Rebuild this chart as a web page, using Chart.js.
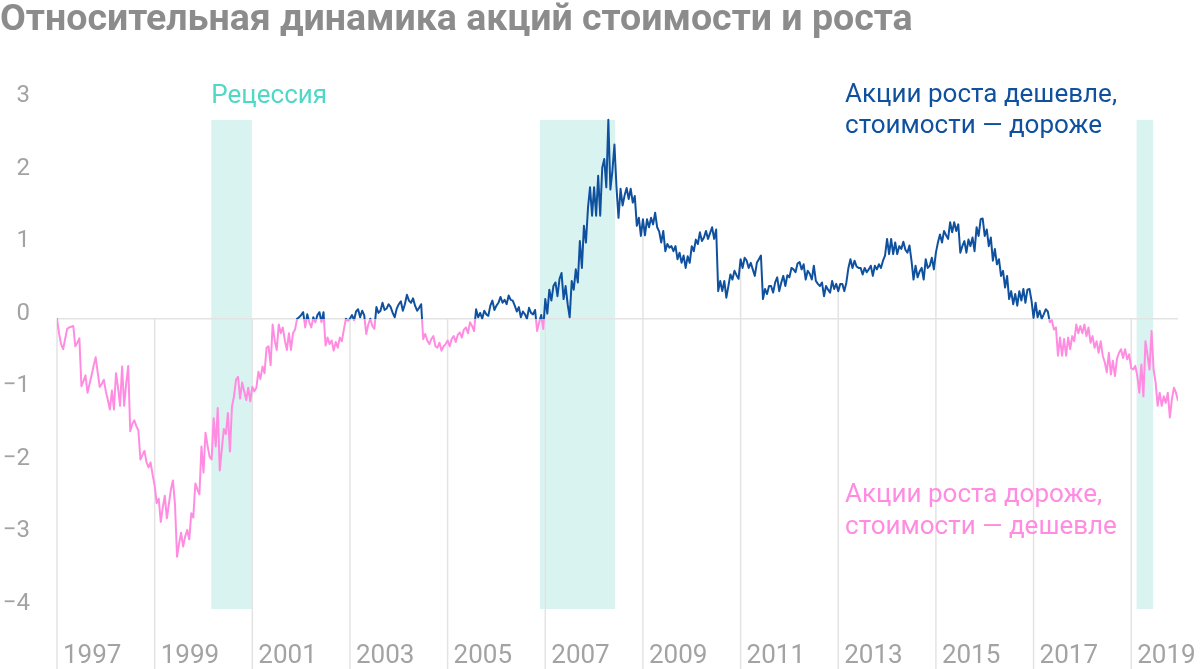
<!DOCTYPE html>
<html lang="ru">
<head>
<meta charset="utf-8">
<title>Относительная динамика акций стоимости и роста</title>
<script src="https://cdn.jsdelivr.net/npm/chart.js@4.4.1/dist/chart.umd.min.js"></script>
<style>
  html, body { margin: 0; padding: 0; background: #fff; }
  #wrap { width: 1200px; height: 669px; }
</style>
</head>
<body>
<div id="wrap"><canvas id="chart" width="1200" height="669"></canvas></div>
<script>
// Years on the axis, one series per year (24 half-month readings each)
const years = [1997, 1998, 1999, 2000, 2001, 2002, 2003, 2004, 2005, 2006, 2007, 2008,
  2009, 2010, 2011, 2012, 2013, 2014, 2015, 2016, 2017, 2018, 2019];
const yearTicks = [1997, 1999, 2001, 2003, 2005, 2007, 2009, 2011, 2013, 2015, 2017, 2019];
const yTicks = [-4, -3, -2, -1, 0, 1, 2, 3];

const v1997 = [0.0, -0.2, -0.35, -0.42, -0.28, -0.14, -0.12, -0.11, -0.1, -0.38, -0.33, -0.27, -0.93, -0.86, -0.78, -1.02, -0.9, -0.78, -0.65, -0.53, -0.74, -0.94, -0.9, -0.84];
const v1998 = [-1.0, -1.12, -1.25, -0.99, -1.25, -0.75, -0.95, -1.2, -0.66, -1.2, -0.9, -0.65, -1.55, -1.45, -1.4, -1.48, -1.54, -1.94, -1.88, -1.82, -1.98, -2.05, -1.98, -2.15];
const v1999 = [-2.3, -2.54, -2.48, -2.8, -2.6, -2.44, -2.75, -2.55, -2.35, -2.23, -2.56, -3.28, -3.1, -2.95, -3.14, -3.0, -2.91, -3.04, -2.68, -2.74, -2.27, -2.35, -2.42, -1.76];
const v2000 = [-2.12, -1.57, -1.75, -1.9, -1.94, -1.37, -1.76, -1.23, -2.09, -1.8, -1.52, -1.59, -1.3, -1.83, -1.21, -1.07, -0.84, -0.8, -1.1, -0.88, -1.0, -1.12, -0.95, -1.14];
const v2001 = [-0.94, -1.0, -0.95, -0.73, -0.83, -0.66, -0.75, -0.4, -0.38, -0.64, -0.08, -0.3, -0.43, -0.08, -0.2, -0.12, -0.3, -0.43, -0.2, -0.43, -0.2, -0.15, 0.0, 0.02];
const v2002 = [0.05, 0.09, -0.12, 0.06, -0.05, -0.12, 0.02, -0.05, 0.05, 0.09, -0.05, 0.09, -0.37, -0.26, -0.35, -0.3, -0.44, -0.32, -0.4, -0.26, -0.31, -0.15, 0.0, -0.03];
const v2003 = [0.0, 0.05, -0.02, 0.1, 0.13, 0.02, 0.11, 0.05, -0.21, -0.08, 0.0, -0.1, -0.14, 0.16, 0.08, 0.11, 0.22, 0.12, 0.14, 0.2, 0.16, 0.08, 0.02, 0.14];
const v2004 = [0.2, 0.24, 0.11, 0.2, 0.33, 0.25, 0.22, 0.28, 0.18, 0.11, 0.15, 0.2, -0.28, -0.21, -0.3, -0.35, -0.28, -0.24, -0.38, -0.4, -0.33, -0.44, -0.38, -0.35];
const v2005 = [-0.3, -0.38, -0.28, -0.24, -0.32, -0.22, -0.19, -0.26, -0.15, -0.12, -0.2, -0.05, -0.1, -0.17, 0.13, 0.02, 0.08, 0.0, 0.11, 0.06, 0.04, 0.18, 0.25, 0.12];
const v2006 = [0.18, 0.22, 0.3, 0.22, 0.26, 0.2, 0.32, 0.26, 0.25, 0.18, 0.1, 0.16, 0.02, 0.1, 0.06, 0.0, 0.15, 0.08, 0.06, 0.12, -0.17, -0.05, 0.05, -0.14];
const v2007 = [0.27, 0.07, 0.4, 0.25, 0.45, 0.5, 0.31, 0.55, 0.63, 0.27, 0.45, 0.2, 0.02, 0.52, 0.4, 0.68, 0.5, 1.07, 0.7, 1.28, 1.05, 1.53, 1.81, 1.42];
const v2008 = [1.81, 1.42, 1.97, 1.42, 2.08, 2.2, 1.81, 2.74, 1.78, 2.04, 2.4, 1.81, 1.39, 1.79, 1.56, 1.7, 1.8, 1.65, 1.79, 1.6, 1.69, 1.28, 1.39, 1.14];
const v2009 = [1.37, 1.15, 1.37, 1.26, 1.39, 1.3, 1.46, 1.26, 1.2, 1.05, 1.21, 0.93, 1.03, 0.98, 1.0, 0.93, 1.0, 0.82, 0.91, 0.77, 0.87, 0.7, 0.86, 0.77];
const v2010 = [1.0, 0.93, 1.09, 1.03, 1.19, 1.07, 1.12, 1.21, 1.1, 1.18, 1.26, 1.1, 1.23, 0.38, 0.52, 0.38, 0.52, 0.29, 0.45, 0.61, 0.54, 0.66, 0.6, 0.55];
const v2011 = [0.82, 0.7, 0.84, 0.8, 0.7, 0.77, 0.68, 0.59, 0.77, 0.82, 0.87, 0.27, 0.41, 0.34, 0.45, 0.45, 0.36, 0.5, 0.57, 0.38, 0.5, 0.59, 0.45, 0.6];
const v2012 = [0.57, 0.7, 0.68, 0.64, 0.76, 0.78, 0.68, 0.75, 0.54, 0.66, 0.62, 0.54, 0.73, 0.52, 0.48, 0.45, 0.5, 0.31, 0.45, 0.4, 0.36, 0.52, 0.41, 0.48];
const v2013 = [0.38, 0.48, 0.48, 0.38, 0.5, 0.7, 0.82, 0.7, 0.8, 0.72, 0.7, 0.7, 0.61, 0.7, 0.64, 0.68, 0.73, 0.59, 0.73, 0.68, 0.75, 0.7, 0.8, 0.87];
const v2014 = [1.1, 0.89, 1.1, 0.89, 1.05, 0.89, 1.0, 0.96, 1.06, 0.95, 0.91, 1.01, 0.8, 0.54, 0.73, 0.57, 0.65, 0.7, 0.54, 0.82, 0.7, 0.73, 0.84, 0.68];
const v2015 = [0.91, 1.05, 1.16, 1.05, 1.21, 1.15, 1.1, 1.33, 1.19, 1.33, 1.21, 1.3, 0.91, 1.0, 1.07, 0.91, 1.09, 1.0, 1.12, 0.93, 1.26, 1.14, 1.37, 1.38];
const v2016 = [1.14, 1.23, 1.0, 1.12, 0.8, 0.96, 0.75, 0.82, 0.59, 0.66, 0.43, 0.59, 0.27, 0.38, 0.2, 0.34, 0.18, 0.38, 0.25, 0.41, 0.22, 0.4, 0.41, 0.25];
const v2017 = [0.01, 0.22, 0.02, 0.11, 0.0, 0.06, 0.13, 0.1, -0.05, -0.02, -0.15, -0.12, -0.51, -0.26, -0.51, -0.28, -0.51, -0.26, -0.42, -0.24, -0.31, -0.08, -0.2, -0.1];
const v2018 = [-0.2, -0.08, -0.24, -0.12, -0.33, -0.24, -0.4, -0.31, -0.47, -0.31, -0.51, -0.6, -0.74, -0.47, -0.77, -0.58, -0.79, -0.55, -0.47, -0.42, -0.54, -0.42, -0.56, -0.49];
const v2019 = [-0.68, -0.7, -0.65, -0.79, -1.02, -0.63, -1.07, -0.31, -0.5, -0.7, -0.17, -0.7, -0.88, -1.2, -1.02, -1.2, -1.07, -1.16, -1.02, -1.36, -1.11, -0.95, -1.02, -1.13];

const series = [v1997, v1998, v1999, v2000, v2001, v2002, v2003, v2004, v2005, v2006, v2007, v2008,
  v2009, v2010, v2011, v2012, v2013, v2014, v2015, v2016, v2017, v2018, v2019];

// Recession periods (decimal years) and how high the shading goes
const recessions = [[2000.16, 2000.99], [2006.89, 2008.43], [2019.11, 2019.45]];
const bandTop = 2.74;
const bandBottom = -4;

const BLUE = '#0f519f';
const PINK = '#ff8ce1';
const BAND = '#d9f3f0';
const TEAL = '#4fd8c6';
const GRID = '#e3e3e3';
const AXIS_TEXT = '#a3a3a3';
const FONT = 'Roboto, "Liberation Sans", Arial, sans-serif';

Chart.defaults.font.family = FONT;

// flatten half-month readings into x/y points
const points = [];
years.forEach((yr, j) => {
  series[j].forEach((v, i) => points.push({ x: yr + i / 24, y: v }));
});
const lastX = points[points.length - 1].x;

// blue above zero, pink below
function splitColor(chart) {
  const { ctx, chartArea, scales } = chart;
  if (!chartArea) return BLUE;
  const y0 = scales.y.getPixelForValue(0);
  const stop = Math.min(Math.max((y0 - chartArea.top) / (chartArea.bottom - chartArea.top), 0), 1);
  const g = ctx.createLinearGradient(0, chartArea.top, 0, chartArea.bottom);
  g.addColorStop(0, BLUE);
  g.addColorStop(stop, BLUE);
  g.addColorStop(stop, PINK);
  g.addColorStop(1, PINK);
  return g;
}

// Recession shading, under everything
const bandsPlugin = {
  id: 'bands',
  beforeDraw(chart) {
    const { ctx, scales: { x, y } } = chart;
    if (!x || !y) return;
    ctx.save();
    ctx.fillStyle = BAND;
    recessions.forEach(([a, b]) => {
      const x0 = x.getPixelForValue(a);
      const x1 = x.getPixelForValue(b);
      const y0 = y.getPixelForValue(bandTop);
      const y1 = y.getPixelForValue(bandBottom);
      ctx.fillRect(x0, y0, x1 - x0, y1 - y0);
    });
    ctx.restore();
  }
};

// Year gridlines run from the bottom up to the line (or to zero)
const dropLinesPlugin = {
  id: 'dropLines',
  beforeDatasetsDraw(chart) {
    const { ctx, scales: { x, y } } = chart;
    const pts = chart.data.datasets[0].data;
    ctx.save();
    ctx.strokeStyle = GRID;
    ctx.lineWidth = 1.5;
    yearTicks.forEach(t => {
      const p = pts.find(d => Math.abs(d.x - t) < 1e-6);
      const top = y.getPixelForValue(Math.max(0, p ? p.y : 0));
      const px = x.getPixelForValue(t);
      ctx.beginPath();
      ctx.moveTo(px, chart.height);
      ctx.lineTo(px, top);
      ctx.stroke();
    });
    ctx.restore();
  }
};

// Text notes
const notesPlugin = {
  id: 'notes',
  afterDraw(chart) {
    const { ctx, scales: { x, y } } = chart;
    ctx.save();
    ctx.textBaseline = 'alphabetic';
    ctx.textAlign = 'left';
    ctx.font = '26px ' + FONT;

    ctx.fillStyle = TEAL;
    ctx.fillText('Рецессия', x.getPixelForValue(recessions[0][0]), y.getPixelForValue(3) + 2);

    const nx = x.getPixelForValue(2013.14);
    ctx.fillStyle = BLUE;
    const by = y.getPixelForValue(2.98);
    ctx.fillText('Акции роста дешевле,', nx, by);
    ctx.fillText('стоимости — дороже', nx, by + 31);

    ctx.fillStyle = PINK;
    const py = y.getPixelForValue(-2.52);
    ctx.fillText('Акции роста дороже,', nx, py);
    ctx.fillText('стоимости — дешевле', nx, py + 32);
    ctx.restore();
  }
};

new Chart(document.getElementById('chart'), {
  type: 'line',
  data: {
    datasets: [{
      data: points,
      borderColor: ctx => splitColor(ctx.chart),
      borderWidth: 2,
      borderJoinStyle: 'round',
      pointRadius: 0,
      tension: 0,
      fill: false
    }]
  },
  options: {
    responsive: false,
    animation: false,
    layout: { padding: { left: 0, right: 22, top: 0, bottom: 0 } },
    plugins: {
      legend: { display: false },
      tooltip: { enabled: false },
      title: {
        display: true,
        align: 'start',
        text: 'Относительная динамика акций стоимости и роста',
        color: '#8c8c8c',
        font: { size: 37.5, weight: 'bold', lineHeight: 1 },
        padding: { top: 1.4, bottom: 62.1 }
      }
    },
    scales: {
      x: {
        type: 'linear',
        min: 1997,
        max: lastX,
        afterBuildTicks: s => { s.ticks = yearTicks.map(v => ({ value: v })); },
        afterFit: s => { s.height = 60; },
        border: { display: false },
        grid: { display: false, drawTicks: true, tickLength: 32 },
        ticks: {
          align: 'start',
          labelOffset: 6,
          padding: 0,
          autoSkip: false,
          maxRotation: 0,
          color: AXIS_TEXT,
          font: { size: 26 },
          callback: v => String(v)
        }
      },
      y: {
        min: -4,
        max: 3,
        afterBuildTicks: s => { s.ticks = yTicks.map(v => ({ value: v })); },
        afterFit: s => { s.width = 57; },
        border: { display: false },
        grid: {
          drawTicks: false,
          lineWidth: 1.5,
          color: c => (c.tick && c.tick.value === 0) ? GRID : 'rgba(0,0,0,0)'
        },
        ticks: {
          padding: 27,
          labelOffset: -5,
          color: AXIS_TEXT,
          font: { size: 24 },
          callback: v => v < 0 ? '\u2212' + Math.abs(v) : String(v)
        }
      }
    }
  },
  plugins: [bandsPlugin, dropLinesPlugin, notesPlugin]
});
</script>
</body>
</html>
